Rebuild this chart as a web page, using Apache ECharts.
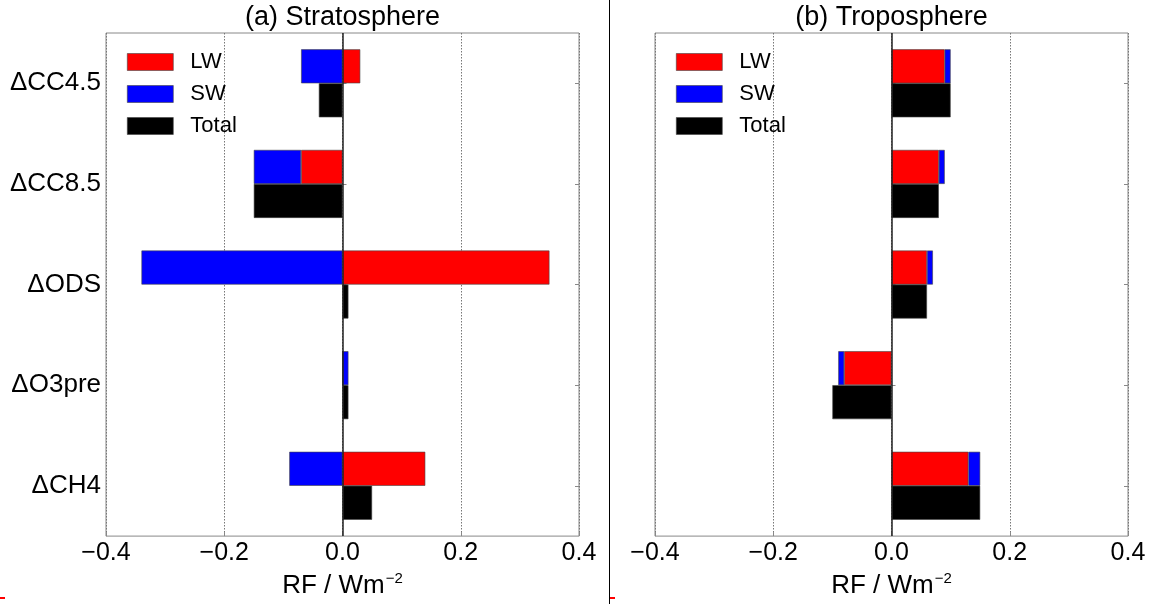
<!DOCTYPE html>
<html>
<head>
<meta charset="utf-8">
<script src="https://cdn.jsdelivr.net/npm/echarts@6/dist/echarts.min.js"></script>
<style>
  html, body { margin: 0; padding: 0; background: #fff; }
  #chart { width: 1151px; height: 604px; }
</style>
</head>
<body>
<div id="chart"></div>
<script>
// ---- data ----
const categories = ['ΔCC4.5', 'ΔCC8.5', 'ΔODS', 'ΔO3pre', 'ΔCH4'];
const stratLW    = [0.03, -0.07, 0.35, 0.00, 0.14];
const stratSW    = [-0.07, -0.08, -0.34, 0.01, -0.09];
const stratTotal = [-0.04, -0.15, 0.01, 0.01, 0.05];
const tropLW     = [0.09, 0.08, 0.06, -0.08, 0.13];
const tropSW     = [0.01, 0.01, 0.01, -0.01, 0.02];
const tropTotal  = [0.10, 0.08, 0.06, -0.10, 0.15];
const xTicks     = [-0.4, -0.2, 0.0, 0.2, 0.4];
const panelTitles = ['(a) Stratosphere', '(b) Troposphere'];
const seriesNames = ['LW', 'SW', 'Total'];
const xAxisName = 'RF / Wm{sup|−2}';

// ---- styling ----
const FONT = '"Liberation Sans", Arial, sans-serif';
const colors = { LW: '#ff0000', SW: '#0000ff', Total: '#000000' };
const grids = [
  { left: 106, right: 572, top: 33, bottom: 57 },
  { left: 655, right: 23, top: 33, bottom: 57 }
];
const panelData = [
  { LW: stratLW, SW: stratSW, Total: stratTotal },
  { LW: tropLW, SW: tropSW, Total: tropTotal }
];

function fmt(v) {
  if (Math.abs(v) < 1e-9) return '0.0';
  return (v < 0 ? '−' : '') + Math.abs(v).toFixed(1);
}

const xAxes = [], yAxes = [], series = [], legends = [], graphics = [];
grids.forEach((g, i) => {
  xAxes.push({
    gridIndex: i, type: 'value',
    min: xTicks[0], max: xTicks[xTicks.length - 1],
    interval: +(xTicks[1] - xTicks[0]).toFixed(6),
    axisLine: { show: false },
    axisTick: { show: true, inside: true, length: 4, lineStyle: { color: '#888' } },
    axisLabel: { formatter: fmt, color: '#000', fontSize: 25, fontFamily: FONT, margin: 5 },
    splitLine: { show: true, lineStyle: { type: [1.5, 1.5], color: '#777', width: 1 } },
    name: xAxisName, nameLocation: 'middle', nameGap: 29,
    nameTextStyle: {
      color: '#000', fontSize: 26, fontFamily: FONT,
      rich: { sup: { fontSize: 15, fontFamily: FONT, color: '#000', verticalAlign: 'top', padding: [0, 0, 15, 1] } }
    }
  });
  // left category axis
  yAxes.push({
    gridIndex: i, type: 'category', data: categories, inverse: true, position: 'left',
    axisLine: { show: false },
    axisTick: { show: true, inside: true, alignWithLabel: true, length: 4, lineStyle: { color: '#888' } },
    axisLabel: { show: i === 0, color: '#000', fontSize: 26, fontFamily: FONT, margin: 5 },
    splitLine: { show: false }
  });
  // right category axis (ticks only)
  yAxes.push({
    gridIndex: i, type: 'category', data: categories, inverse: true, position: 'right',
    axisLine: { show: false },
    axisTick: { show: true, inside: true, alignWithLabel: true, length: 4, lineStyle: { color: '#888' } },
    axisLabel: { show: false },
    splitLine: { show: false }
  });
  const d = panelData[i];
  seriesNames.forEach((name) => {
    const s = {
      name, type: 'bar', xAxisIndex: i, yAxisIndex: i * 2,
      data: d[name], barWidth: 34, barGap: '0%',
      itemStyle: { color: colors[name], borderColor: '#444', borderWidth: 0.6 },
      emphasis: { disabled: true },
      animation: false
    };
    if (name !== 'Total') s.stack = 'lwsw' + i;
    if (name === 'Total') {
      s.markLine = {
        silent: true, symbol: 'none', animation: false,
        label: { show: false },
        lineStyle: { color: '#222', width: 1.5, type: 'solid' },
        data: [{ xAxis: 0 }]
      };
    }
    series.push(s);
  });
  legends.push({
    orient: 'vertical', left: i === 0 ? 127 : 676, top: 51, padding: 0,
    itemWidth: 46, itemHeight: 17, itemGap: 10, icon: 'rect',
    itemStyle: { borderColor: '#444', borderWidth: 0.6 },
    data: seriesNames,
    textStyle: { color: '#000', fontSize: 22, fontFamily: FONT, padding: [0, 0, 0, 12] },
    selectedMode: false
  });
  graphics.push({
    type: 'text',
    x: (g.left + (1151 - g.right)) / 2, y: 18,
    style: { text: panelTitles[i], font: '27px ' + FONT, fill: '#000', align: 'center', verticalAlign: 'middle' }
  });
});

// separator and small marks
graphics.push({ type: 'line', shape: { x1: 609.5, y1: 0, x2: 609.5, y2: 604 }, style: { stroke: '#000', lineWidth: 1 } });
graphics.push({ type: 'rect', shape: { x: 0, y: 597, width: 5, height: 2 }, style: { fill: '#ff0000' } });
graphics.push({ type: 'rect', shape: { x: 610, y: 597, width: 5, height: 2 }, style: { fill: '#ff0000' } });

const chart = echarts.init(document.getElementById('chart'), null, { renderer: 'canvas' });
chart.setOption({
  animation: false,
  backgroundColor: '#fff',
  grid: grids.map(g => Object.assign({ show: true, borderColor: '#888', borderWidth: 1, backgroundColor: 'transparent' }, g)),
  xAxis: xAxes,
  yAxis: yAxes,
  legend: legends,
  series: series,
  graphic: graphics
});
</script>
</body>
</html>
